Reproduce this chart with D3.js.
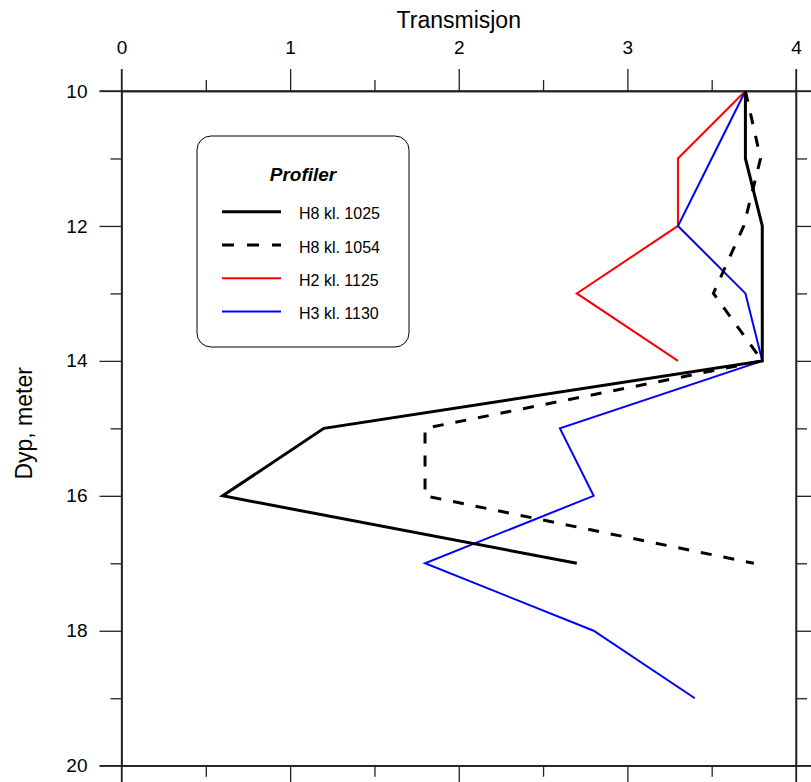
<!DOCTYPE html>
<html><head><meta charset="utf-8">
<script src="https://cdn.jsdelivr.net/npm/d3@7"></script>
<style>
html,body{margin:0;padding:0;background:#fff;}
svg text{font-family:"Liberation Sans",Arial,sans-serif;fill:#000;}
</style></head>
<body><svg id="c" width="811" height="782"></svg>
<script>
// Data
const depths = [10,11,12,13,14,15,16,17,18,19];
const seriesNames = ["H8 kl. 1025","H8 kl. 1054","H2 kl. 1125","H3 kl. 1130"];
const h8_1025 = [3.7,3.7,3.8,3.8,3.8,1.2,0.6,2.7];
const h8_1054 = [3.7,3.79,3.69,3.51,3.8,1.8,1.8,3.75];
const h2_1125 = [3.7,3.3,3.3,2.7,3.3];
const h3_1130 = [3.7,3.5,3.3,3.7,3.8,2.6,2.8,1.8,2.8,3.4];
const xMajorTicks = [0,1,2,3,4];
const xMinorTicks = [0.5,1.5,2.5,3.5];
const yMajorTicks = [10,12,14,16,18,20];
const yMinorTicks = [11,13,15,17,19];
const xTitle = "Transmisjon", yTitle = "Dyp, meter", legendTitle = "Profiler";

const svg = d3.select("#c");
const L=121.5, R=796, T=91, B=765.7;
const x = d3.scaleLinear().domain([0,4]).range([L,R]);
const y = d3.scaleLinear().domain([10,20]).range([T,B]);

const axisColor="#222";
function styleAxis(g){
  g.select(".domain").attr("stroke",axisColor).attr("stroke-width",1.3);
  g.selectAll(".tick line").attr("stroke",axisColor).attr("stroke-width",1.3);
  g.selectAll(".tick text").style("font-size","19px").attr("fill","#000");
}
// major axes
const topAx = svg.append("g").attr("transform",`translate(0,${T})`)
  .call(d3.axisTop(x).tickValues(xMajorTicks).tickFormat(d3.format("d")).tickSize(22).tickSizeOuter(0).tickPadding(15));
styleAxis(topAx);
const botAx = svg.append("g").attr("transform",`translate(0,${B})`)
  .call(d3.axisBottom(x).tickValues(xMajorTicks).tickFormat("").tickSize(22).tickSizeOuter(0));
styleAxis(botAx);
const leftAx = svg.append("g").attr("transform",`translate(${L},0)`)
  .call(d3.axisLeft(y).tickValues(yMajorTicks).tickFormat(d3.format("d")).tickSize(22).tickSizeOuter(0).tickPadding(12));
styleAxis(leftAx);
const rightAx = svg.append("g").attr("transform",`translate(${R},0)`)
  .call(d3.axisRight(y).tickValues(yMajorTicks).tickFormat("").tickSize(22).tickSizeOuter(0));
styleAxis(rightAx);
// minor
[[d3.axisTop(x).tickValues(xMinorTicks),`translate(0,${T})`],
 [d3.axisBottom(x).tickValues(xMinorTicks),`translate(0,${B})`],
 [d3.axisLeft(y).tickValues(yMinorTicks),`translate(${L},0)`],
 [d3.axisRight(y).tickValues(yMinorTicks),`translate(${R},0)`]].forEach(([ax,tr])=>{
  const g=svg.append("g").attr("transform",tr).call(ax.tickFormat("").tickSize(11).tickSizeOuter(0));
  styleAxis(g);
});
// left axis line extends to top tick
svg.append("line").attr("x1",L).attr("x2",L).attr("y1",T-22).attr("y2",B+22).attr("stroke",axisColor).attr("stroke-width",1.3);
svg.append("line").attr("x1",R).attr("x2",R).attr("y1",T-22).attr("y2",B+22).attr("stroke",axisColor).attr("stroke-width",1.3);
svg.append("line").attr("x1",L-22).attr("x2",R+22).attr("y1",T).attr("y2",T).attr("stroke",axisColor).attr("stroke-width",1.3);
svg.append("line").attr("x1",L-22).attr("x2",R+22).attr("y1",B).attr("y2",B).attr("stroke",axisColor).attr("stroke-width",1.3);

// titles
svg.append("text").attr("x",x(2)).attr("y",28).attr("text-anchor","middle").style("font-size","23px").text(xTitle);
svg.append("text").attr("transform",`translate(32,${(T+B)/2 - 5}) rotate(-90)`).attr("text-anchor","middle").style("font-size","23px").text(yTitle);

// lines
const line = d3.line().x(d=>x(d[0])).y(d=>y(d[1]));
const series = [
  {name:seriesNames[2], vals:h2_1125, color:"#ff0000", w:2, dash:null},
  {name:seriesNames[3], vals:h3_1130, color:"#0000ff", w:2, dash:null},
  {name:seriesNames[1], vals:h8_1054, color:"#000", w:3, dash:"11,12"},
  {name:seriesNames[0], vals:h8_1025, color:"#000", w:3, dash:null}
];
series.forEach(s=>{
  svg.append("path").datum(s.vals.map((v,i)=>[v,depths[i]]))
    .attr("d",line).attr("fill","none").attr("stroke",s.color)
    .attr("stroke-width",s.w).attr("stroke-linejoin","miter")
    .attr("stroke-dasharray",s.dash);
});

// legend
const lg = svg.append("g");
lg.append("rect").attr("x",197).attr("y",136).attr("width",212).attr("height",211).attr("rx",14)
  .attr("fill","#fff").attr("stroke","#000").attr("stroke-width",1);
lg.append("text").attr("x",303).attr("y",181).attr("text-anchor","middle")
  .style("font-size","19px").style("font-weight","bold").style("font-style","italic").text(legendTitle);
const legOrder=[3,2,0,1];
legOrder.forEach((si,i)=>{
  const s=series[si];
  const yy=211.7+i*33.3;
  lg.append("line").attr("x1",222).attr("x2",281).attr("y1",yy).attr("y2",yy)
    .attr("stroke",s.color).attr("stroke-width",s.w).attr("stroke-dasharray",s.dash?"12,13":null);
  lg.append("text").attr("x",299).attr("y",yy+7.5).style("font-size","16px").text(s.name);
});
</script></body></html>
